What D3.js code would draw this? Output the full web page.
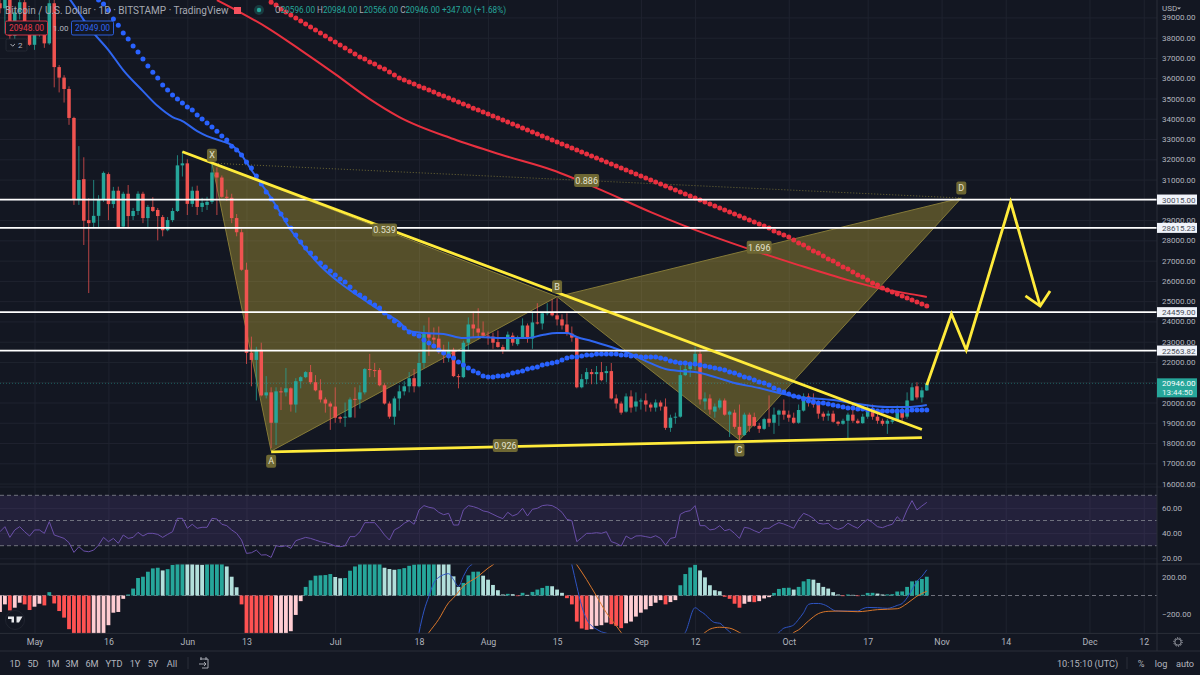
<!DOCTYPE html>
<html>
<head>
<meta charset="utf-8">
<script src="https://cdn.jsdelivr.net/npm/d3@7"></script>
<style>
  html, body { margin: 0; padding: 0; background: #131722; overflow: hidden; }
  svg { display: block; }
  text { font-family: Roboto, "Liberation Sans", sans-serif; }
</style>
</head>
<body>
<svg id="chart" width="1200" height="675"></svg>
<script>
// daily candles, first one is Apr 24 2022 (day -7 counted from May 1)
const firstDay = -7;
const opens = [39700,39450,40400,38100,39250,39750,38600,37650,38470,38530,
  37720,39700,36550,36030,35470,34040,29990,31020,29000,28870,
  29210,29990,31270,29790,30450,28680,30300,29200,29450,30300,
  29100,29650,29500,29150,28500,29000,29450,31700,31800,29800,
  30450,29650,29750,29900,31350,31100,30150,30100,29100,28400,
  26550,22450,22100,22600,20350,20500,19000,20550,20500,20700,
  19900,21050,21250,21500,21000,20600,20150,19950,19800,19280,
  19250,19270,20180,20150,20500,21650,21600,21600,20850,19950,
  19300,20200,20550,20800,21200,20800,21950,23400,23200,23150,
  22600,22400,22600,21300,21250,22950,23850,23650,23450,23300,
  23250,22980,22740,22600,23300,22880,23200,23800,23150,23950,
  23900,24400,24450,24300,24100,23850,23400,23200,20750,21150,
  21500,21400,21500,21450,21550,20200,19950,19550,20300,19800,
  20050,20100,19900,19750,20000,19800,18750,19250,19300,21350,
  21650,21850,22400,20050,20200,19550,19750,20100,19400,19500,
  18800,18400,19400,19280,18850,18700,19200,19000,19400,19600,
  19400,19250,19000,19600,20300,20150,19900,19450,19350,19450,
  19050,18950,19100,19400,19100,18980,19300,19650,19300,19100,
  18950,19050,19150,19650,19300,20100,20800,20250,20596];
const highs = [39900,40600,40800,39400,40300,39900,38800,38700,39200,38650,
  40000,40000,36650,36150,35600,34100,32650,32100,30080,30980,
  30230,31400,31350,30640,30650,30400,30730,29600,30420,30400,
  29750,30130,29600,29250,29150,29600,32200,32400,32000,30650,
  30700,30100,30150,31800,31600,31200,30500,30300,29300,28550,
  26900,23250,22750,22950,21300,20750,20750,20750,21700,20750,
  21200,21300,21550,21850,21350,21150,20250,20050,20750,19350,
  20000,20250,20750,20850,21700,22400,21950,21700,20950,20050,
  20300,20850,21050,21500,21650,22450,23800,24200,23700,23750,
  22850,23000,22700,21400,23050,24200,24500,24650,24000,23500,
  23450,23550,22850,23500,23450,23300,24150,23900,24450,24900,
  24450,24900,25100,25150,24350,24400,23750,23200,21400,21700,
  21650,21800,22000,21800,21950,20400,20050,20450,20600,20500,
  20200,20450,20000,20150,20100,20200,19400,19500,21800,21850,
  22000,22750,22650,20500,20400,19950,20200,20200,19600,19650,
  19900,19500,19500,19500,19000,19250,20350,19750,19650,20150,
  19600,19500,19900,20450,20450,20450,20100,19550,19600,19600,
  19100,19200,19500,19950,19200,19450,19900,19900,19550,19200,
  19200,19250,19850,19750,20500,20950,21000,20750,20984];
const lows = [39200,38200,37700,37900,38900,38200,37600,37400,38050,37500,
  37650,35550,35300,34800,33700,29750,29750,27770,25400,28600,
  28600,29900,29000,29600,28610,28600,28600,29000,29250,28850,
  28600,29400,28000,28200,28450,28900,29400,31150,29250,29650,
  29250,29400,29500,29800,29250,30100,29950,28850,28200,26500,
  21900,20800,20100,20300,20200,17750,17900,19630,20300,19550,
  19500,20700,21200,20900,20550,20000,19500,18650,19000,19000,
  18800,19250,19250,19700,20400,21250,21250,20800,19900,19200,
  18900,19600,20350,20500,20500,20750,21700,22300,22800,22400,
  21950,22000,21250,20700,21200,22600,23200,23150,23250,22850,
  22650,22700,22400,22550,22800,22800,23150,22950,22650,23850,
  23600,24300,24250,23800,23600,23300,23000,20700,20700,20900,
  20900,20900,21050,21000,20150,19700,19400,19500,19500,19550,
  19650,19550,19550,19550,19600,18650,18550,18950,19250,21300,
  21250,21600,19900,19650,19400,19250,19650,19350,18300,18700,
  18150,18350,18550,18800,18500,18650,18800,18450,18850,19150,
  19050,18950,18950,19550,19800,19750,19200,19100,19100,19000,
  18850,18900,18200,19000,18950,18950,19200,19150,18950,18850,
  18450,18950,19100,19100,19200,20100,20150,20000,20566];
const closes = [39450,40400,38100,39250,39750,38600,37650,38470,38530,37720,
  39700,36550,36030,35470,34040,29990,30980,28970,28850,29210,
  30030,31330,29790,30450,28650,30300,29200,29450,30300,29100,
  29650,29450,29200,28500,29000,29450,31700,31800,29800,30450,
  29650,29850,29900,31350,31100,30150,30100,29100,28400,26550,
  22450,22100,22600,20350,20500,19000,20550,20500,20700,19900,
  21050,21250,21500,21000,20600,20150,19950,19800,19250,19200,
  19300,20150,20150,20500,21650,21600,21550,20850,19950,19300,
  20200,20550,20800,21200,20800,21950,23400,23200,23100,22600,
  22450,22600,21300,21250,22950,23850,23650,23450,23300,23250,
  22950,22740,22550,23350,22950,23200,23800,23150,23950,23900,
  24400,24450,24300,24100,23800,23400,23200,20750,21150,21500,
  21400,21500,21100,21550,20200,19950,19500,20300,19750,20050,
  20100,19900,19750,20000,19800,18750,19250,19300,21350,21650,
  21850,22400,20150,20200,19650,19800,20100,19400,19550,18800,
  18400,19400,18850,18850,18700,19180,19000,19400,19600,19400,
  19250,19000,19630,20300,20100,19900,19450,19300,19450,19050,
  18950,19100,19400,19100,18980,19300,19630,19300,19100,18950,
  19100,19120,19650,19250,20100,20750,20250,20600,20946];

// slow EMA drawn as dots, one per day
const blueDotsFirstDay = 13;
const blueDots = [39855,39660,39360,38920,38620,38230,37930,37585,37290,36945,
  36600,36300,36010,35660,35415,35170,34970,34775,34575,34430,
  34180,33985,33790,33590,33390,33145,32950,32650,32455,32210,
  31865,31570,31175,30780,30385,30040,29645,29300,29000,28610,
  28265,27915,27620,27375,27125,26880,26685,26485,26290,26090,
  25945,25695,25450,25300,25155,24955,24810,24660,24415,24215,
  24020,23825,23675,23480,23380,23280,23085,22935,22785,22590,
  22440,22295,22195,21995,21850,21700,21555,21455,21305,21260,
  21260,21305,21305,21355,21455,21505,21555,21655,21700,21750,
  21850,21900,21950,21995,22095,22195,22245,22245,22295,22345,
  22345,22390,22390,22390,22390,22390,22345,22345,22295,22295,
  22245,22245,22245,22245,22195,22145,22045,21995,21950,21950,
  21900,21900,21850,21800,21750,21700,21655,21605,21505,21455,
  21355,21260,21210,21110,21010,20960,20860,20715,20615,20515,
  20420,20320,20270,20175,20075,20025,19975,19975,19925,19875,
  19825,19780,19730,19730,19680,19680,19630,19630,19580,19580,
  19580,19580,19580,19580,19580,19630,19630,19630,19630];

const redDotsFirstDay = 48;
const redDots = [39755,39610,39410,39265,39115,38970,38820,38670,38525,38375,
  38230,38080,37930,37785,37635,37490,37340,37190,37045,36945,
  36795,36700,36550,36450,36305,36155,36010,35910,35810,35710,
  35610,35515,35415,35315,35215,35120,35020,34920,34825,34725,
  34625,34525,34430,34330,34230,34135,34035,33935,33835,33740,
  33640,33540,33440,33345,33245,33145,33050,32950,32850,32750,
  32655,32555,32455,32355,32260,32160,32060,31960,31865,31765,
  31665,31570,31470,31370,31270,31175,31075,30975,30875,30780,
  30680,30580,30480,30385,30285,30185,30090,29990,29890,29790,
  29695,29595,29495,29395,29300,29200,29100,29000,28905,28805,
  28705,28610,28460,28360,28265,28165,28015,27870,27770,27620,
  27470,27375,27225,27075,26980,26830,26685,26585,26435,26290,
  26190,26040,25895,25795,25650,25550,25450,25350,25255,25155,
  25055,24955,24860,24760];

// fast EMAs, read at the days listed and joined with a curve
const blueLineDays = [7,8,10,12,15,18,22,25,28,30,33,35,38,40,42,44,46,48,50,52,55,58,62,66,70,74,76,79,83,87,90,95,100,103,106,108,110,113,117,120,124,128,131,134,138,142,147,151,155,162,167,173,177,181];
const blueLine = [39950,39610,38870,38230,37390,36400,35365,34625,34085,33885,33390,33145,32900,32700,32210,31470,30780,30090,29300,28510,27570,26735,25895,25205,24560,23970,23525,23430,23380,23180,23230,23180,23180,23330,23430,23430,23230,23035,22735,22490,22045,21650,21555,21505,21260,20960,20715,20470,20270,20120,19925,19775,19775,19875];
const redLineDays = [37,42,47,54,61,68,74,85,95,105,115,125,132,145,155,165,172,180,181];
const redLine = [39855,39215,38525,37390,36205,34970,34085,33000,32200,31470,30480,29395,28705,27570,26780,26040,25600,25255,25205];

// RSI pane, one value per candle
const rsiValues = [41.1,45.1,36.6,42.5,45.1,41.1,37.7,42.5,42.5,39.8,
  49.1,38.5,37.2,35.8,32.4,24.7,29.2,25.8,25.2,26.5,
  30.5,36.6,33.2,35.8,31.9,38.5,35.8,36.6,40.6,37.7,
  39.8,39.8,39,36.6,39,41.1,51.7,51.7,43.8,47,
  43.8,44.6,44.6,51.7,51.2,47,45.9,42.5,39.8,34.5,
  23.9,24.4,26.5,22.6,22.8,20.7,30,29.2,30,27.9,
  34,35.3,36.6,35.8,34.5,33.2,32.4,31.3,29.7,29.2,
  30,37.2,37.2,41.1,48.3,48.3,48.3,43.8,38.5,34.5,
  42.5,44.6,47.8,49.9,47,58.4,61.8,60.5,59.7,56.5,
  54.6,55.7,46.4,46.4,58.4,61.8,61,59.7,57.6,56.8,
  54.9,53,51.5,56.5,53.6,55.2,59.7,53.6,58.9,59.7,
  61.8,62.3,61.8,59.7,56.5,50.9,49.9,33.2,36.4,39.8,
  39.8,40.3,39.8,41.1,33.2,31.9,29.7,37.7,35.3,37.7,
  37.9,37.2,36.4,37.9,35.8,30.5,35.8,36.6,54.9,57,
  57.8,61.8,45.9,45.9,42.5,43.2,45.9,41.9,43,39.8,
  35.8,44.6,43.8,41.9,40.3,43.8,43.8,46.4,48.3,47.2,
  45.6,43.8,50.9,55.7,54.1,51.7,47.8,47.2,47.8,44.3,
  43,44.3,47.8,45.6,43.8,47.8,50.9,48.3,45.1,44.3,
  45.9,47,53,49.1,58.4,65.8,58.4,61.5,64.4];
const rsiBand = [70, 50, 30];

// MACD pane, histogram per candle; the tall bars run off the pane so those are rough
const macdHist = [-178,-96,-161,-132,-78,-96,-157,-121,-89,-107,
  36,-86,-168,-239,-364,-420,-470,-520,-560,-540,
  -510,-430,-321,-186,-178,-36,11,75,189,203,
  257,293,300,271,285,330,345,360,350,342,
  336,332,340,350,360,370,314,203,89,-96,
  -410,-440,-470,-500,-520,-540,-520,-480,-420,-386,
  -210,-61,93,164,214,218,221,232,200,186,
  189,268,314,340,355,370,380,385,300,286,
  278,285,296,321,335,350,360,370,380,370,
  360,345,207,93,136,218,257,258,214,171,
  114,57,11,18,14,-7,29,7,39,64,
  82,104,100,64,29,-29,-96,-282,-357,-371,
  -364,-328,-321,-293,-310,-328,-353,-300,-282,-228,
  -186,-150,-114,-78,-50,-96,-71,-50,111,232,
  303,332,271,196,111,57,46,-14,-36,-89,
  -132,-89,-68,-72,-61,-32,-18,28,71,82,
  84,64,93,153,178,171,136,93,75,36,
  11,-7,11,7,-7,7,28,29,21,11,
  12,14,43,44,93,153,160,178,203];
const macdDays = [77,78,79,80,81,82,83,84,85,86,87,88,89,90,100,108,109,110,111,112,113,114,115,116,125,132,134,135,136,137,138,139,140,141,146,151,152,153,154,155,156,157,158,159,160,161,162,163,165,167,168,169,171,173,175,176,177,178,179,180,181];
const macdLine = [-700,-400,-168,-7,136,196,225,236,171,100,207,303,350,450,800,530,332,100,-114,-257,-328,-364,-393,-407,-700,-400,-132,-168,-203,-257,-293,-300,-346,-393,-600,-400,-353,-339,-318,-257,-186,-96,-86,-86,-96,-121,-157,-168,-168,-168,-143,-129,-132,-139,-107,-86,-25,64,153,207,278];
const signalDays = [76,80,82,84,85,87,90,92,93,100,110,112,114,116,118,119,127,136,137,139,141,143,150,154,155,157,159,161,163,167,171,175,177,179,181];
const signalLine = [-700,-400,-257,-78,-25,100,207,296,332,800,332,171,-7,-186,-328,-400,-800,-400,-364,-343,-353,-400,-700,-400,-371,-275,-196,-171,-168,-175,-153,-143,-86,-7,46];

// levels and drawings
const levels = [30015, 28615.23, 24459, 22563.82];
const lastPrice = 20946;
const pointNames = ['X', 'A', 'B', 'C', 'D'];
const pointDays = [36, 48, 106, 143, 188];
const pointPrices = [31810, 17600, 25220, 18150, 30090];
const ratioTexts = ['0.539', '0.926', '1.696', '0.886'];
const ratioPairs = [[0, 2], [1, 3], [2, 4], [0, 4]];
const wedgeDays = [[30, 180], [48, 180]];
const wedgePrices = [[32370, 18670], [17560, 18270]];
const forecastDays = [181, 186, 189, 198, 204];
const forecastPrices = [20860, 24365, 22590, 29890, 24760];
const arrowDays = [201, 204, 206];
const arrowPrices = [25260, 24760, 25500];

// ticks and text
const priceTicks = d3.range(16000, 40000, 1000);
const rsiTicks = [60, 40, 20];
const macdTicks = [200, -200];
const timeTickDays = [0, 15, 31, 43, 61, 78, 92, 106, 123, 134, 153, 169, 184, 197, 214, 225];
const timeTickLabels = ['May', '16', 'Jun', '13', 'Jul', '18', 'Aug', '15', 'Sep', '12', 'Oct', '17', 'Nov', '14', 'Dec', '12'];
const rangeButtons = ['1D', '5D', '1M', '3M', '6M', 'YTD', '1Y', '5Y', 'All'];
const rightButtons = ['%', 'log', 'auto'];

const axisX = 1157;
const mainBottom = 487, rsiBottom = 564, macdBottom = 633.4, timeBottom = 651;
const textCol = '#b2b5be', gridCol = '#1f232f', sepCol = '#2a2e39', up = '#26a69a', down = '#ef5350';
const blue = '#2962ff', red = '#e8303f', yellow = '#ffeb3b';

const svg = d3.select('#chart');
const dayZero = Date.UTC(2022, 4, 1);
const date = d => d3.utcDay.offset(new Date(dayZero), d);
const x = d3.scaleUtc().domain([date(0), date(184)]).range([34.5, 941.6]);
const xd = d => x(date(d));
const y = d3.scaleLinear().domain([17000, 38000]).range([463.3, 37.7]);
const yRsi = d3.scaleLinear().domain([30, 70]).range([545.7, 495.3]);
const yMacd = d3.scaleLinear().domain([-200, 200]).range([614, 577]);

svg.append('rect').attr('width', 1200).attr('height', 675).attr('fill', '#131722');

const defs = svg.append('defs');
function addClip(id, top, bottom) {
    defs.append('clipPath').attr('id', id).append('rect')
        .attr('x', 0).attr('y', top).attr('width', axisX).attr('height', bottom - top);
}
addClip('clip-main', 0, mainBottom);
addClip('clip-rsi', mainBottom, rsiBottom);
addClip('clip-macd', rsiBottom, macdBottom);

// grid
const gridX = d3.axisBottom(x).tickValues(timeTickDays.map(date)).tickSize(timeBottom - 18).tickFormat('');
svg.append('g').attr('class', 'grid').call(gridX);
function gridY(scale, ticks, clip) {
    svg.append('g').attr('class', 'grid').attr('clip-path', `url(#${clip})`)
        .call(d3.axisRight(scale).tickValues(ticks).tickSize(axisX).tickFormat(''));
}
gridY(y, priceTicks, 'clip-main');
gridY(yRsi, rsiTicks, 'clip-rsi');
svg.selectAll('.grid .domain').remove();
svg.selectAll('.grid line').attr('stroke', gridCol).attr('stroke-width', 1);

// harmonic pattern fill, under the candles
const pt = i => [xd(pointDays[i]), y(pointPrices[i])];
const mainLayer = svg.append('g').attr('clip-path', 'url(#clip-main)');
[[0, 1, 2], [2, 3, 4]].forEach(tri => {
    mainLayer.append('path')
        .attr('d', d3.line()(tri.map(pt)) + 'Z')
        .attr('fill', '#f0d040').attr('fill-opacity', 0.3)
        .attr('stroke', '#857a38').attr('stroke-width', 1);
});
mainLayer.append('path')
    .attr('d', d3.line()([pt(0), pt(4)]))
    .attr('stroke', '#6f6a35').attr('stroke-width', 1).attr('stroke-dasharray', '1 2').attr('fill', 'none');

// last price dotted line
mainLayer.append('line')
    .attr('x1', 0).attr('x2', axisX).attr('y1', y(lastPrice)).attr('y2', y(lastPrice))
    .attr('stroke', up).attr('stroke-opacity', 0.5).attr('stroke-dasharray', '1 2');

// candles
const candleIdx = d3.range(opens.length);
const candleG = mainLayer.selectAll('g.candle').data(candleIdx).enter().append('g').attr('class', 'candle');
const col = i => closes[i] >= opens[i] ? up : down;
candleG.append('line')
    .attr('x1', i => xd(firstDay + i)).attr('x2', i => xd(firstDay + i))
    .attr('y1', i => y(highs[i])).attr('y2', i => y(lows[i]))
    .attr('stroke', col).attr('stroke-opacity', 0.75).attr('stroke-width', 1);
candleG.append('rect')
    .attr('x', i => xd(firstDay + i) - 1.75).attr('width', 3.5)
    .attr('y', i => Math.min(y(opens[i]), y(closes[i])))
    .attr('height', i => Math.max(1, Math.abs(y(opens[i]) - y(closes[i]))))
    .attr('fill', col);

// moving averages
function drawCurve(layer, days, vals, scale, color, width) {
    layer.append('path')
        .datum(days.map((d, i) => [d, vals[i]]))
        .attr('fill', 'none').attr('stroke', color).attr('stroke-width', width)
        .attr('d', d3.line().x(d => xd(d[0])).y(d => scale(d[1])).curve(d3.curveMonotoneX));
}
function drawDots(first, vals, color) {
    mainLayer.selectAll(null).data(vals).enter().append('circle')
        .attr('cx', (d, i) => xd(first + i)).attr('cy', d => y(d))
        .attr('r', 2.5).attr('fill', color);
}
drawCurve(mainLayer, redLineDays, redLine, y, red, 2);
drawDots(redDotsFirstDay, redDots, red);
drawCurve(mainLayer, blueLineDays, blueLine, y, '#2f66f0', 2);
drawDots(blueDotsFirstDay, blueDots, blue);

// white levels
mainLayer.selectAll('line.level').data(levels).enter().append('line').attr('class', 'level')
    .attr('x1', 0).attr('x2', axisX).attr('y1', d => y(d)).attr('y2', d => y(d))
    .attr('stroke', '#ffffff').attr('stroke-width', 1.8);

// yellow trend lines and forecast path
wedgeDays.forEach((days, k) => {
    mainLayer.append('path')
        .attr('d', d3.line()(days.map((d, i) => [xd(d), y(wedgePrices[k][i])])))
        .attr('stroke', yellow).attr('stroke-width', 2.8).attr('fill', 'none');
});
[[forecastDays, forecastPrices], [arrowDays, arrowPrices]].forEach(([days, vals]) => {
    mainLayer.append('path')
        .attr('d', d3.line()(days.map((d, i) => [xd(d), y(vals[i])])))
        .attr('stroke', yellow).attr('stroke-width', 2.8).attr('fill', 'none').attr('stroke-linejoin', 'miter');
});

// pattern labels
function tag(cx, cy, txt) {
    const w = txt.length > 1 ? 25 : 10;
    mainLayer.append('rect').attr('x', cx - w / 2).attr('y', cy - 6.5).attr('width', w).attr('height', 13)
        .attr('rx', 2).attr('fill', '#6d6733');
    mainLayer.append('text').attr('x', cx).attr('y', cy + 3.2).attr('text-anchor', 'middle')
        .attr('font-size', 9).attr('fill', '#e4e2d0').text(txt);
}
ratioTexts.forEach((t, i) => {
    const a = pt(ratioPairs[i][0]), b = pt(ratioPairs[i][1]);
    tag((a[0] + b[0]) / 2, (a[1] + b[1]) / 2, t);
});
const tagOffsets = [-8, 10, -10, 10, -10];
pointNames.forEach((n, i) => {
    const p = pt(i);
    tag(p[0], p[1] + tagOffsets[i], n);
});

// RSI pane
const rsiLayer = svg.append('g').attr('clip-path', 'url(#clip-rsi)');
rsiLayer.append('rect').attr('x', 0).attr('width', axisX)
    .attr('y', yRsi(70)).attr('height', yRsi(30) - yRsi(70))
    .attr('fill', '#7e57c2').attr('fill-opacity', 0.16);
rsiLayer.selectAll('line.band').data(rsiBand).enter().append('line').attr('class', 'band')
    .attr('x1', 0).attr('x2', axisX).attr('y1', d => yRsi(d)).attr('y2', d => yRsi(d))
    .attr('stroke', '#787b86').attr('stroke-dasharray', '4 3').attr('stroke-width', 0.9);
rsiLayer.append('path').datum(rsiValues)
    .attr('fill', 'none').attr('stroke', '#6a4fa8').attr('stroke-width', 1)
    .attr('d', d3.line().x((d, i) => xd(firstDay + i)).y(d => yRsi(d)));

// MACD pane
const macdLayer = svg.append('g').attr('clip-path', 'url(#clip-macd)');
macdLayer.append('line').attr('x1', 0).attr('x2', axisX).attr('y1', yMacd(0)).attr('y2', yMacd(0))
    .attr('stroke', '#787b86').attr('stroke-dasharray', '4 3').attr('stroke-width', 0.9);
function histCol(i) {
    const v = macdHist[i], prev = i > 0 ? macdHist[i - 1] : v - 1;
    if (v >= 0) return prev <= v ? up : '#b2dfdb';
    return prev < v ? '#ffcdd2' : '#ff5252';
}
macdLayer.selectAll('rect.hist').data(macdHist).enter().append('rect').attr('class', 'hist')
    .attr('x', (d, i) => xd(firstDay + i) - 1.9).attr('width', 3.8)
    .attr('y', d => Math.min(yMacd(d), yMacd(0)))
    .attr('height', d => Math.abs(yMacd(d) - yMacd(0)))
    .attr('fill', (d, i) => histCol(i));
drawCurve(macdLayer, macdDays, macdLine, yMacd, '#2f55c4', 1);
drawCurve(macdLayer, signalDays, signalLine, yMacd, '#d9772b', 1);

// pane separators
[mainBottom, rsiBottom, macdBottom, timeBottom].forEach((v, i) => {
    svg.append('line').attr('x1', 0).attr('x2', 1200).attr('y1', v).attr('y2', v)
        .attr('stroke', i === 0 ? gridCol : sepCol).attr('stroke-width', 1);
});
svg.append('line').attr('x1', axisX).attr('x2', axisX).attr('y1', 0).attr('y2', timeBottom)
    .attr('stroke', sepCol).attr('stroke-width', 1);

// right hand axes
function rightAxis(scale, ticks, fmt) {
    const g = svg.append('g').attr('transform', `translate(${axisX},0)`)
        .call(d3.axisRight(scale).tickValues(ticks).tickSize(0).tickPadding(5).tickFormat(fmt));
    g.select('.domain').remove();
    g.selectAll('text').attr('fill', textCol).attr('font-size', 8).attr('font-family', 'Roboto');
    return g;
}
rightAxis(y, priceTicks.filter(p => p !== 21000), d3.format('.2f'));
rightAxis(yRsi, rsiTicks, d3.format('.2f'));
rightAxis(yMacd, macdTicks, d => (d < 0 ? '\u2212' : '') + Math.abs(d).toFixed(2));

svg.append('rect').attr('x', axisX + 1).attr('y', 0).attr('width', 42).attr('height', 15).attr('fill', '#131722');
svg.append('text').attr('x', 1162).attr('y', 10.5).attr('font-size', 8).attr('fill', textCol).text('USD');
svg.append('path').attr('d', 'M1177 7.5h4l-2 2z').attr('fill', textCol);

// level boxes
const boxes = svg.selectAll('g.box').data(levels).enter().append('g').attr('class', 'box');
boxes.append('rect').attr('x', axisX).attr('width', 40).attr('y', d => y(d) - 5).attr('height', 10).attr('fill', '#f0f3fa');
boxes.append('text').attr('x', 1162).attr('y', d => y(d) + 3).attr('font-size', 8).attr('fill', '#4a4e59').text(d => d3.format('.2f')(d));
svg.append('rect').attr('x', axisX).attr('y', y(lastPrice) - 5).attr('width', 40).attr('height', 19).attr('fill', up);
svg.append('text').attr('x', 1162).attr('y', y(lastPrice) + 3).attr('font-size', 8).attr('fill', '#ffffff').text(d3.format('.2f')(lastPrice));
svg.append('text').attr('x', 1162).attr('y', y(lastPrice) + 12).attr('font-size', 8).attr('fill', '#e6f5f3').text('13:44:50');

// time axis
const timeAxis = svg.append('g').attr('transform', `translate(0,${macdBottom})`)
    .call(d3.axisBottom(x).tickValues(timeTickDays.map(date)).tickSize(0).tickPadding(5)
        .tickFormat((d, i) => timeTickLabels[i]));
timeAxis.select('.domain').remove();
timeAxis.selectAll('text').attr('fill', textCol).attr('font-size', 8.8).attr('font-family', 'Roboto');

// gear
const gear = svg.append('g').attr('transform', 'translate(1178,642)');
gear.append('circle').attr('r', 3.2).attr('fill', 'none').attr('stroke', textCol).attr('stroke-width', 0.8);
gear.append('circle').attr('r', 4.2).attr('fill', 'none').attr('stroke', textCol).attr('stroke-width', 1).attr('stroke-dasharray', '1.2 1.4');

// toolbar
const buttonX = [15, 33, 53, 72, 92, 114, 135, 153, 172];
const toolbarText = (px, txt) => svg.append('text').attr('x', px).attr('y', 666.5)
    .attr('text-anchor', 'middle').attr('font-size', 9.2).attr('fill', textCol).text(txt);
rangeButtons.forEach((b, i) => toolbarText(buttonX[i], b));
svg.append('line').attr('x1', 188).attr('x2', 188).attr('y1', 657).attr('y2', 669).attr('stroke', sepCol);
svg.append('path').attr('d', 'M200 659h8v9h-6M199 664h7m-2-2l2 2-2 2M201 657v3M206 657v3')
    .attr('fill', 'none').attr('stroke', textCol).attr('stroke-width', 0.9);
toolbarText(1087.5, '10:15:10 (UTC)');
svg.append('line').attr('x1', 1127).attr('x2', 1127).attr('y1', 657).attr('y2', 669).attr('stroke', sepCol);
[1141, 1161, 1185].forEach((px, i) => toolbarText(px, rightButtons[i]));

// TV logo
const logo = svg.append('g').attr('transform', 'translate(15,620)');
logo.append('circle').attr('r', 9.5).attr('fill', '#131722').attr('stroke', '#2a2e39').attr('stroke-width', 0.6);
logo.append('path').attr('d', 'M-7 -3.5h6v6h-2.5v-3.5h-3.5zM1.5 -3.5h6l-3.5 6h-2.5z').attr('fill', '#e6e7ea');

// header legend
const head = svg.append('g');
head.append('text').attr('x', 5).attr('y', 13.5).attr('font-size', 10).attr('fill', '#a6a9b2')
    .attr('xml:space', 'preserve').text('Bitcoin / U.S. Dollar \u00b7 1D \u00b7 BITSTAMP \u00b7 TradingView');
head.append('rect').attr('x', 234).attr('y', 7).attr('width', 7).attr('height', 7).attr('fill', '#f7525f');
head.append('circle').attr('cx', 259).attr('cy', 10).attr('r', 5).attr('fill', up).attr('fill-opacity', 0.25);
head.append('circle').attr('cx', 259).attr('cy', 10).attr('r', 2.2).attr('fill', up);
const ohlcText = head.append('text').attr('x', 275).attr('y', 13).attr('font-size', 8.2);
[['O', '20596.00'], ['H', '20984.00'], ['L', '20566.00'], ['C', '20946.00']].forEach(([k, v]) => {
    ohlcText.append('tspan').attr('fill', '#a6a9b2').text(k);
    ohlcText.append('tspan').attr('fill', up).text(v + ' ');
});
ohlcText.append('tspan').attr('fill', up).text('+347.00 (+1.68%)');

function valueBox(bx, w, color, txt) {
    head.append('rect').attr('x', bx).attr('y', 21).attr('width', w).attr('height', 14).attr('rx', 1.5)
        .attr('fill', '#131722').attr('stroke', color).attr('stroke-width', 0.9);
    head.append('text').attr('x', bx + w / 2).attr('y', 31).attr('text-anchor', 'middle')
        .attr('font-size', 8.4).attr('fill', color).text(txt);
}
valueBox(5.5, 42, '#e5394a', '20948.00');
head.append('text').attr('x', 53).attr('y', 31).attr('font-size', 8).attr('fill', textCol).text('1.00');
valueBox(71.5, 42, '#2f66f0', '20949.00');
head.append('rect').attr('x', 6).attr('y', 39).attr('width', 21).attr('height', 12).attr('rx', 1.5)
    .attr('fill', '#131722').attr('stroke', '#2a2e39').attr('stroke-width', 0.8);
head.append('path').attr('d', 'M10.5 44l2.2 2.2 2.2-2.2').attr('fill', 'none').attr('stroke', textCol);
head.append('text').attr('x', 18).attr('y', 48).attr('font-size', 8).attr('fill', textCol).text('2');
</script>
</body>
</html>
